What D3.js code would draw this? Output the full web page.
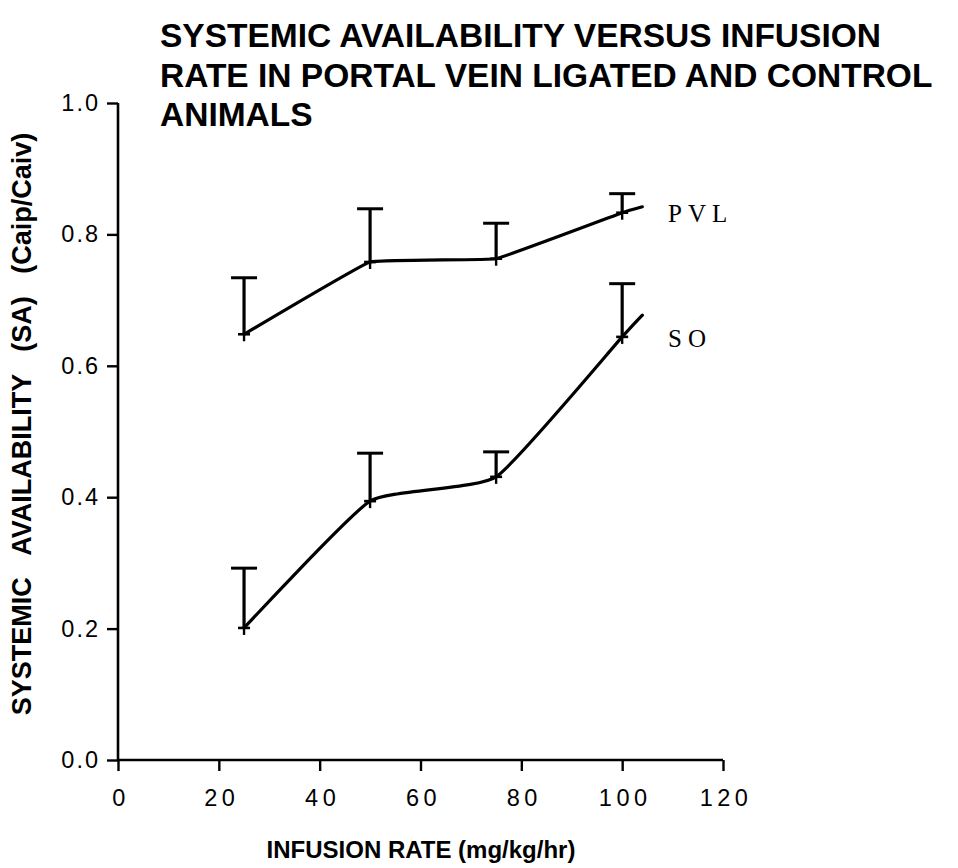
<!DOCTYPE html>
<html>
<head>
<meta charset="utf-8">
<script src="https://cdn.jsdelivr.net/npm/d3@7"></script>
<style>
  html, body { margin: 0; padding: 0; background: #fff; }
  svg { display: block; }
  text { white-space: pre; }
</style>
</head>
<body>
<svg id="chart" width="958" height="868"></svg>
<script>
// ---- data ----
const infusionRates = [25, 50, 75, 100];
const pvlMeans = [0.648, 0.758, 0.763, 0.833];
const pvlUpper = [0.734, 0.839, 0.817, 0.862];
const soMeans = [0.201, 0.394, 0.431, 0.644];
const soUpper = [0.292, 0.467, 0.469, 0.725];
// fitted curve ends slightly past the last point
const curveEndX = [104, 104];
const curveEndY = [0.842, 0.677];
const xTicks = [0, 20, 40, 60, 80, 100, 120];
const yTicks = [0.0, 0.2, 0.4, 0.6, 0.8, 1.0];
const seriesNames = ["PVL", "SO"];
const titleLines = [
  "SYSTEMIC AVAILABILITY VERSUS INFUSION",
  "RATE IN PORTAL VEIN LIGATED AND CONTROL",
  "ANIMALS"
];

const svg = d3.select("#chart");
const x = d3.scaleLinear().domain([0, 120]).range([118, 723]);
const y = d3.scaleLinear().domain([0, 1]).range([760, 103]);

// Title
svg.append("g").selectAll("text").data(titleLines).join("text")
  .attr("x", 160).attr("y", (d, i) => 47 + i * 39.5)
  .attr("font-family", "Liberation Sans, Arial, sans-serif")
  .attr("font-weight", "bold").attr("font-size", 33.5)
  .attr("fill", "#000").text(d => d);

// Axes
const yAxis = d3.axisLeft(y).tickValues(yTicks).tickSize(11).tickPadding(9)
  .tickFormat(d3.format(".1f"));
const xAxis = d3.axisBottom(x).tickValues(xTicks).tickSize(11).tickPadding(17)
  .tickFormat(d3.format("d"));

const gy = svg.append("g").attr("transform", `translate(${x(0)},0)`).call(yAxis);
const gx = svg.append("g").attr("transform", `translate(0,${y(0)})`).call(xAxis);
[gx, gy].forEach(g => {
  g.select(".domain").attr("stroke", "#000").attr("stroke-width", 2.6)
    .attr("d", g === gx ? `M${x(0)},0H${x(120)}` : `M0,${y(1)}V${y(0)}`);
  g.selectAll(".tick line").attr("stroke", "#000").attr("stroke-width", 2.4);
  g.selectAll(".tick text").attr("fill", "#000")
    .attr("font-family", "Liberation Sans, Arial, sans-serif")
    .attr("font-size", 23.5);
});
gy.selectAll(".tick text").attr("letter-spacing", 2).attr("dx", 2);
gx.selectAll(".tick text").attr("letter-spacing", 4.5).attr("dx", 2.5).attr("dy", "0.75em");

// Axis titles
svg.append("text")
  .attr("transform", `translate(31,${424}) rotate(-90)`)
  .attr("text-anchor", "middle")
  .attr("font-family", "Liberation Sans, Arial, sans-serif")
  .attr("font-weight", "bold").attr("font-size", 27)
  .attr("fill", "#000")
  .text("SYSTEMIC   AVAILABILITY   (SA)   (Caip/Caiv)");

svg.append("text")
  .attr("x", 421).attr("y", 858)
  .attr("text-anchor", "middle")
  .attr("font-family", "Liberation Sans, Arial, sans-serif")
  .attr("font-weight", "bold").attr("font-size", 24)
  .attr("fill", "#000")
  .text("INFUSION RATE (mg/kg/hr)");

// Series
const series = [
  { name: seriesNames[0], means: pvlMeans, upper: pvlUpper, endX: curveEndX[0], endY: curveEndY[0], curve: d3.curveCardinal.tension(0.8) },
  { name: seriesNames[1], means: soMeans, upper: soUpper, endX: curveEndX[1], endY: curveEndY[1], curve: d3.curveCardinal.tension(0.55) }
];

series.forEach(s => {
  const pts = infusionRates.map((r, i) => [r, s.means[i]]);
  pts.push([s.endX, s.endY]);
  const line = d3.line().x(d => x(d[0])).y(d => y(d[1])).curve(s.curve);
  svg.append("path").datum(pts).attr("d", line)
    .attr("fill", "none").attr("stroke", "#000").attr("stroke-width", 3.2)
    .attr("stroke-linejoin", "round").attr("stroke-linecap", "round");

  const g = svg.append("g").attr("stroke", "#000");
  infusionRates.forEach((r, i) => {
    const cx = x(r), cy = y(s.means[i]), ty = y(s.upper[i]);
    // error bar stem
    g.append("line").attr("x1", cx).attr("x2", cx).attr("y1", cy).attr("y2", ty)
      .attr("stroke-width", 3.2);
    // cap
    g.append("line").attr("x1", cx - 13).attr("x2", cx + 13).attr("y1", ty).attr("y2", ty)
      .attr("stroke-width", 3);
    // point marker (+)
    g.append("line").attr("x1", cx - 6).attr("x2", cx + 6).attr("y1", cy).attr("y2", cy)
      .attr("stroke-width", 2.6);
    g.append("line").attr("x1", cx).attr("x2", cx).attr("y1", cy).attr("y2", cy + 7)
      .attr("stroke-width", 2.4);
  });
});

// Series labels
svg.append("text").attr("x", 668).attr("y", 222)
  .attr("font-family", "Liberation Serif, DejaVu Serif, serif")
  .attr("font-size", 25).attr("letter-spacing", 6).attr("fill", "#000")
  .text(seriesNames[0]);
svg.append("text").attr("x", 668).attr("y", 347)
  .attr("font-family", "Liberation Serif, DejaVu Serif, serif")
  .attr("font-size", 25).attr("letter-spacing", 6).attr("fill", "#000")
  .text(seriesNames[1]);
</script>
</body>
</html>
